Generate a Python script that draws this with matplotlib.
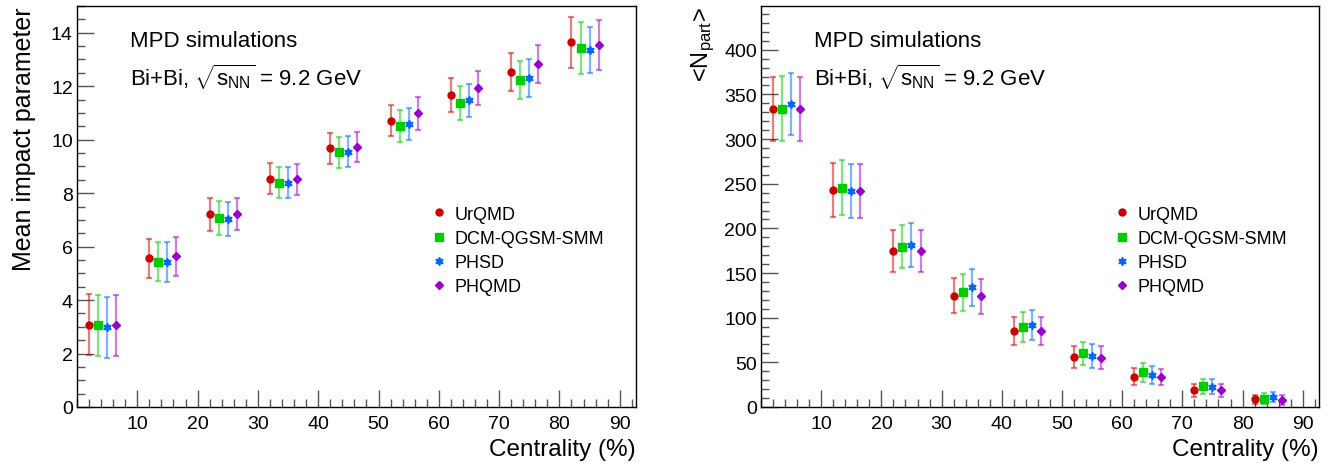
import numpy as np
import matplotlib
matplotlib.use("Agg")
import matplotlib.pyplot as plt
from matplotlib.ticker import MultipleLocator

plt.rcParams['font.family'] = ['Liberation Sans', 'DejaVu Sans']
plt.rcParams['mathtext.fontset'] = 'custom'
plt.rcParams['mathtext.rm'] = 'Liberation Sans'
plt.rcParams['mathtext.it'] = 'Liberation Sans'

# ---------- data ----------
bin_centers = [5, 15, 25, 35, 45, 55, 65, 75, 85]
models = ["UrQMD", "DCM-QGSM-SMM", "PHSD", "PHQMD"]
x_shift = [-3.0, -1.5, 0.0, 1.5]

# mean impact parameter (fm)
b_urqmd = [3.08, 5.56, 7.21, 8.54, 9.67, 10.71, 11.66, 12.53, 13.64]
b_dcm   = [3.05, 5.43, 7.06, 8.39, 9.52, 10.52, 11.36, 12.23, 13.42]
b_phsd  = [2.98, 5.43, 7.02, 8.39, 9.55, 10.59, 11.47, 12.32, 13.36]
b_phqmd = [3.05, 5.63, 7.22, 8.51, 9.72, 10.98, 11.93, 12.82, 13.54]
b_err_urqmd = [1.13, 0.73, 0.62, 0.57, 0.57, 0.58, 0.64, 0.71, 0.96]
b_err_dcm   = [1.14, 0.73, 0.63, 0.58, 0.59, 0.60, 0.63, 0.70, 0.98]
b_err_phsd  = [1.14, 0.74, 0.63, 0.59, 0.57, 0.60, 0.61, 0.71, 0.86]
b_err_phqmd = [1.15, 0.72, 0.61, 0.58, 0.56, 0.60, 0.63, 0.71, 0.95]

# mean number of participants
n_urqmd = [333.8, 242.7, 174.8, 124.7, 85.1, 56.0, 34.0, 19.0, 8.6]
n_dcm   = [334.2, 245.7, 179.2, 128.5, 89.6, 60.1, 38.8, 23.2, 9.3]
n_phsd  = [339.1, 242.0, 181.5, 134.0, 91.5, 57.5, 35.8, 22.8, 11.6]
n_phqmd = [333.5, 242.0, 174.8, 124.0, 85.1, 55.3, 33.6, 18.7, 7.5]
n_err_urqmd = [36.0, 30.2, 23.5, 19.4, 15.7, 12.5, 9.2, 7.3, 5.0]
n_err_dcm   = [36.0, 30.4, 24.1, 20.7, 16.6, 13.1, 11.0, 8.7, 6.5]
n_err_phsd  = [35.1, 30.4, 25.0, 21.0, 16.6, 13.4, 10.3, 8.2, 5.6]
n_err_phqmd = [36.0, 30.3, 23.5, 19.4, 15.7, 12.5, 9.2, 7.3, 5.5]

colors = ["#cc0000", "#00cc00", "#0066ff", "#9900cc"]
markers = ["o", "s", (6, 1, 0), "D"]
msizes = [5.0, 5.8, 6.0, 3.8]

b_vals = [b_urqmd, b_dcm, b_phsd, b_phqmd]
b_errs = [b_err_urqmd, b_err_dcm, b_err_phsd, b_err_phqmd]
n_vals = [n_urqmd, n_dcm, n_phsd, n_phqmd]
n_errs = [n_err_urqmd, n_err_dcm, n_err_phsd, n_err_phqmd]

fig = plt.figure(figsize=(13.4, 4.64), dpi=100)
ax1 = fig.add_axes([77 / 1340, 56 / 464, 559 / 1340, 401 / 464])
ax2 = fig.add_axes([761 / 1340, 56 / 464, 558 / 1340, 401 / 464])


def draw_panel(ax, vals, errs, ymax, ymajor, yminor):
    handles = []
    for i in range(4):
        xs = np.array(bin_centers) + x_shift[i]
        ax.errorbar(xs, vals[i], yerr=errs[i], fmt="none",
                    ecolor=colors[i], alpha=0.5, elinewidth=1.6,
                    capsize=2.2, capthick=1.6)
        h, = ax.plot(xs, vals[i], linestyle="none", marker=markers[i],
                     ms=msizes[i], color=colors[i], mec=colors[i],
                     label=models[i])
        handles.append(h)
    ax.set_xlim(0, 92.7)
    ax.set_ylim(0, ymax)
    ax.xaxis.set_major_locator(MultipleLocator(10))
    ax.xaxis.set_minor_locator(MultipleLocator(2))
    ax.yaxis.set_major_locator(MultipleLocator(ymajor))
    ax.yaxis.set_minor_locator(MultipleLocator(yminor))
    ax.tick_params(which="both", direction="in", top=False, right=False,
                   labelsize=14, width=1.0, color="#555555")
    ax.tick_params(which="major", length=12, pad=6)
    ax.tick_params(which="minor", length=6)
    ax.tick_params(axis="y", pad=3)
    ax.set_xticks([10, 20, 30, 40, 50, 60, 70, 80, 90])
    for s in ax.spines.values():
        s.set_linewidth(1.0)
    ax.set_xlabel("Centrality (%)", fontsize=17.5, loc="right", labelpad=4)
    ax.text(0.095, 0.915, "MPD simulations", transform=ax.transAxes,
            fontsize=16, va="center")
    ax.text(0.095, 0.825, r"Bi+Bi, $\sqrt{s_{\mathrm{NN}}}$ = 9.2 GeV",
            transform=ax.transAxes, fontsize=16, va="center")
    ax.legend(handles=handles, loc="upper left",
              bbox_to_anchor=(0.625, 0.52), frameon=False,
              fontsize=13, handlelength=0.6, handletextpad=0.55,
              labelspacing=0.4, borderaxespad=0)
    return ax


draw_panel(ax1, b_vals, b_errs, 15.0, 2, 0.5)
draw_panel(ax2, n_vals, n_errs, 449.0, 50, 10)

ax1.set_ylabel("Mean impact parameter", fontsize=18, loc="top", labelpad=11)
ax2.set_ylabel(r"<N$_{\mathrm{part}}$>", fontsize=17, loc="top", labelpad=5)

fig.savefig("out.png", dpi=100)
